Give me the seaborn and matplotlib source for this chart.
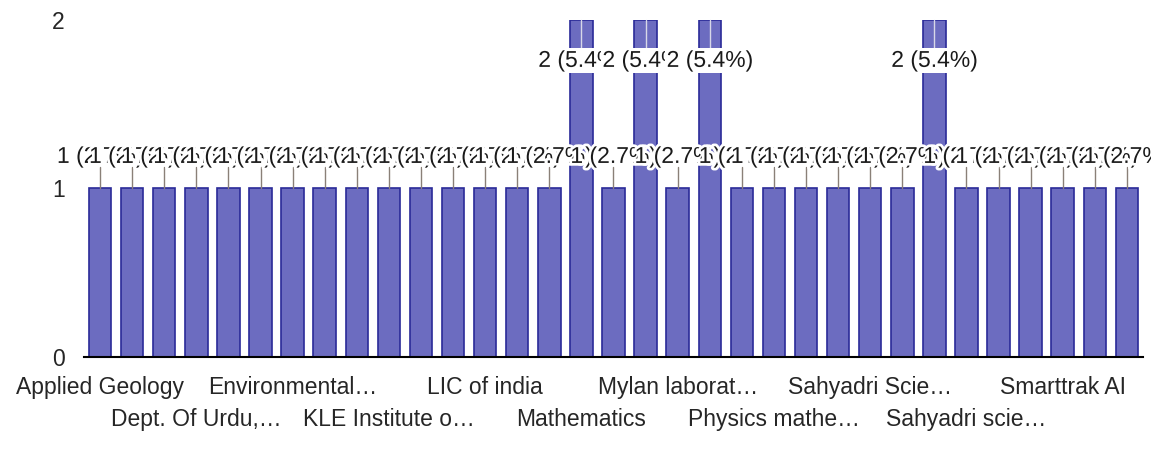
import seaborn as sns
import pandas as pd
import matplotlib.pyplot as plt
import matplotlib.patheffects as pe

# one bar per organisation, only every third name is shown on the axis
counts = [1, 1, 1, 1, 1, 1, 1, 1, 1, 1, 1, 1, 1, 1, 1, 2, 1, 2, 1, 2, 1,
          1, 1, 1, 1, 1, 2, 1, 1, 1, 1, 1, 1]
tick_labels = ["Applied Geology", "Dept. Of Urdu,…", "Environmental…",
               "KLE Institute o…", "LIC of india", "Mathematics",
               "Mylan laborat…", "Physics mathe…", "Sahyadri Scie…",
               "Sahyadri scie…", "Smarttrak AI"]
y_ticks = [0, 1, 2]

df = pd.DataFrame({"pos": list(range(len(counts))), "count": counts})
total = sum(counts)

sns.set_style("white")
plt.rcParams['font.family'] = ['Liberation Sans', 'DejaVu Sans']

fig = plt.figure(figsize=(11.51, 4.53), dpi=100)
ax = fig.add_axes([0.073, 0.212, 0.92, 0.744])

sns.barplot(data=df, x="pos", y="count", ax=ax, color="#6c6cc0",
            saturation=1, width=0.7, edgecolor="#2a2a98", linewidth=1.2)

ax.set_ylim(0, 2)
ax.set_xlim(-0.5, len(counts) - 0.5)
ax.set_yticks(y_ticks)
ax.set_yticklabels([str(t) for t in y_ticks])
ax.set_xticks(range(0, len(counts), 3))
ax.set_xticklabels(tick_labels)
ax.tick_params(axis='both', length=0, labelsize=16.5)
ax.tick_params(axis='y', pad=14)
for i, t in enumerate(ax.xaxis.get_major_ticks()):
    t.set_pad(14 if i % 2 == 0 else 37)
ax.set(xlabel="", ylabel="")

for s in ["top", "right", "left"]:
    ax.spines[s].set_visible(False)
ax.spines["bottom"].set_color("black")
ax.spines["bottom"].set_linewidth(1.5)

# value labels with leader lines, white halo round the glyphs
halo = [pe.withStroke(linewidth=4, foreground="white")]
for i, v in enumerate(counts):
    ly = min(v + 0.19, 1.76)
    box = None
    if v + 0.19 > 1.76:
        ax.plot([i, i], [v, ly + 0.07], color="#d8d8e8", lw=1, zorder=3, clip_on=False)
        box = dict(facecolor="white", edgecolor="none", pad=1)
    else:
        ax.plot([i, i], [v, ly - 0.06], color="#8a8078", lw=1, zorder=3)
    ax.text(i, ly, f"{v} ({v / total * 100:.1f}%)", ha="center", va="center",
            fontsize=16.5, color="#1a1a1a", zorder=4, path_effects=halo, bbox=box)

fig.savefig("out.png", dpi=100)
